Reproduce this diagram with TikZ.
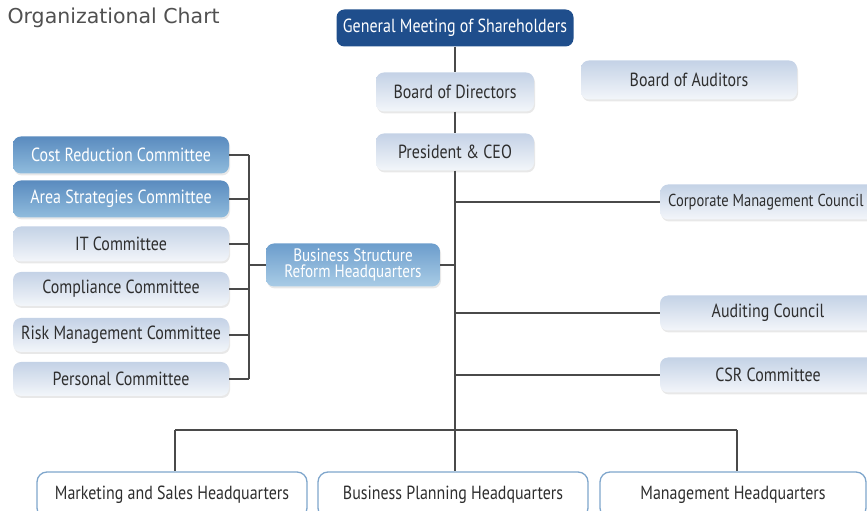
\documentclass[tikz,border=0pt]{standalone}
\usepackage{fontspec}
\setmainfont{PT Sans}[FakeStretch=0.84]
\newfontfamily\titlefont{DejaVu Sans}
\usetikzlibrary{shadows}

\definecolor{linegray}{HTML}{4A4A4A}
\definecolor{textgray}{HTML}{2E2E2E}
\definecolor{titlegray}{HTML}{505050}
\definecolor{lighttop}{HTML}{C4D2E6}
\definecolor{lightbot}{HTML}{F3F6FA}
\definecolor{navy}{HTML}{1F4E8C}
\definecolor{bluetop}{HTML}{5A8BBF}
\definecolor{bluebot}{HTML}{90BCDD}
\definecolor{hqtop}{HTML}{6C9DCC}
\definecolor{hqbot}{HTML}{A9CCE6}
\definecolor{hqborder}{HTML}{7FA6CC}

\tikzset{
  orgbox/.style={rounded corners=8pt, inner sep=0pt, minimum height=37pt,
    font=\fontsize{19}{17}\selectfont, text=textgray},
  lightbox/.style={orgbox, top color=lighttop, bottom color=lightbot,
    drop shadow={opacity=0.18, shadow xshift=1pt, shadow yshift=-2pt}},
  bluebox/.style={orgbox, top color=bluetop, bottom color=bluebot, text=white,
    drop shadow={opacity=0.18, shadow xshift=1pt, shadow yshift=-2pt}},
  navybox/.style={orgbox, fill=navy, text=white},
  hqbox/.style={orgbox, fill=white, draw=hqborder, line width=1.3pt,
    minimum height=46pt, rounded corners=10pt},
  conn/.style={draw=linegray, line width=1.3pt},
}

\begin{document}
\begin{tikzpicture}[x=1pt, y=1pt]
\useasboundingbox (0,0) rectangle (867,511);

% heading
\node[anchor=west, text=titlegray, font=\titlefont\fontsize{20.5}{20}\selectfont]
  (title) at (4,493) {Organizational Chart};

% central column
\node[navybox, minimum width=237pt] (gms) at (455,483) {General Meeting of Shareholders};
\node[lightbox, minimum width=158pt, minimum height=39pt] (bod) at (455,419) {Board of Directors};
\node[lightbox, minimum width=158pt] (ceo) at (455,359) {President \& CEO};
\node[lightbox, minimum width=216pt, minimum height=39pt] (boa) at (689,431) {Board of Auditors};

% councils on the right
\node[lightbox, anchor=west, minimum height=35pt, inner xsep=8pt,
  font=\fontsize{17.3}{17}\selectfont]
  (cmc) at (660,309) {\makebox[200pt][l]{Corporate Management Council}};
\node[lightbox, minimum width=216pt, minimum height=35pt] (aud) at (768,198) {Auditing Council};
\node[lightbox, minimum width=216pt, minimum height=35pt] (csr) at (768,136) {CSR Committee};

% committees on the left
\node[bluebox, minimum width=216pt] (c1) at (121,356) {Cost Reduction Committee};
\node[bluebox, minimum width=216pt] (c2) at (121,312) {Area Strategies Committee};
\node[lightbox, minimum width=216pt, minimum height=35pt] (c3) at (121,267) {IT Committee};
\node[lightbox, minimum width=216pt, minimum height=34pt] (c4) at (121,222) {Compliance Committee};
\node[lightbox, minimum width=216pt, minimum height=34pt] (c5) at (121,176) {Risk Management Committee};
\node[lightbox, minimum width=216pt, minimum height=34pt] (c6) at (121,132) {Personal Committee};

\node[bluebox, top color=hqtop, bottom color=hqbot, minimum width=174pt,
  minimum height=43pt, align=center, font=\fontsize{18}{16.5}\selectfont]
  (bsrh) at (353,246) {Business Structure\\Reform Headquarters};

% headquarters at the bottom
\node[hqbox, minimum width=270pt] (mk) at (172,16) {Marketing and Sales Headquarters};
\node[hqbox, minimum width=270pt] (bp) at (453,16) {Business Planning Headquarters};
\node[hqbox, minimum width=266pt] (mg) at (733,16) {Management Headquarters};

% junction points
\coordinate (sp) at (249,0);
\coordinate (busL) at (175,81);
\coordinate (busM) at (455,81);
\coordinate (busR) at (737,81);

% main spine
\draw[conn] (gms.south) -- (bod.north);
\draw[conn] (bod.south) -- (ceo.north);
\draw[conn] (ceo.south) -- (busM);
\draw[conn] (busM) -- (busM |- bp.north);

% right branches
\draw[conn] (cmc.west -| ceo) -- (cmc.west);
\draw[conn] (aud.west -| ceo) -- (aud.west);
\draw[conn] (csr.west -| ceo) -- (csr.west);

% left committee bracket
\foreach \c in {c1,c2,c3,c4,c5,c6}
  \draw[conn] (\c.east) -- (\c.east -| sp);
\draw[conn] (c1.east -| sp) -- (c6.east -| sp);
\draw[conn] (bsrh.west -| sp) -- (bsrh.west);
\draw[conn] (bsrh.east) -- (bsrh.east -| ceo);

% bottom bus
\draw[conn] (busL) -- (busR);
\draw[conn] (busL) -- (busL |- mk.north);
\draw[conn] (busR) -- (busR |- mg.north);
\end{tikzpicture}
\end{document}
